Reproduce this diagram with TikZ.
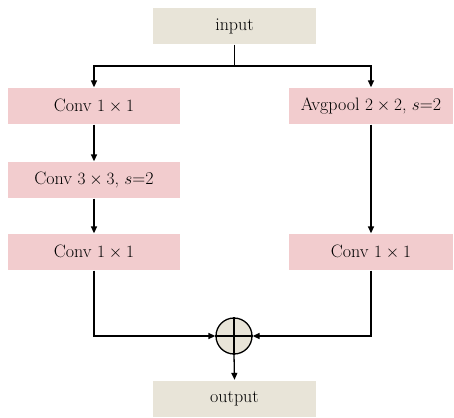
\documentclass[tikz,border=0pt]{standalone}
\usepackage{amsmath}
\usepackage{fontspec}
\usepackage{tikz}
\usetikzlibrary{arrows.meta}

\definecolor{convpink}{RGB}{242,204,206}
\definecolor{iobeige}{RGB}{232,228,216}

\begin{document}
\begin{tikzpicture}[x=1pt,y=1pt,yscale=-1,xscale=1,
    convbox/.style={fill=convpink,inner sep=0pt,minimum height=36pt,font=\fontsize{18}{21}\selectfont},
    iobox/.style={fill=iobeige,inner sep=0pt,minimum height=36pt,minimum width=163pt,font=\fontsize{18}{21}\selectfont},
    flow/.style={line width=1.3pt,-{Triangle[length=7pt,width=6pt]}},
    line width=1.3pt]
    % picture frame: 454 x 417
    \useasboundingbox (0,0) rectangle (454,417);

    % input / output
    \node [iobox] (input) at (234.5,26) {input};
    \node [iobox] (output) at (234.5,398.5) {output};

    % left branch
    \node [convbox,minimum width=172pt] (convA) at (94,106) {Conv $1\times1$};
    \node [convbox,minimum width=172pt] (convB) at (94,180) {Conv $3\times3$, $s$=2};
    \node [convbox,minimum width=172pt] (convC) at (94,252) {Conv $1\times1$};

    % right branch
    \node [convbox,minimum width=164pt] (pool) at (371,106) {Avgpool $2\times2$, $s$=2};
    \node [convbox,minimum width=164pt] (convR) at (371,252) {Conv $1\times1$};

    % adder
    \node [draw,circle,fill=iobeige,minimum size=36pt,inner sep=0pt] (sum) at (234,336) {};
    \draw (sum.north) -- (sum.south);
    \draw (sum.west) -- (sum.east);

    \coordinate (split) at (234.5,66);

    % connections
    \draw (input.south) -- (split);
    \draw [flow] (split) -| (convA.north);
    \draw [flow] (split) -| (pool.north);
    \draw [flow] (convA.south) -- (convB.north);
    \draw [flow] (convB.south) -- (convC.north);
    \draw [flow] (pool.south) -- (convR.north);
    \draw [flow] (convC.south) |- (sum.west);
    \draw [flow] (convR.south) |- (sum.east);
    \draw [flow] (sum.south) -- (output.north);
\end{tikzpicture}
\end{document}
